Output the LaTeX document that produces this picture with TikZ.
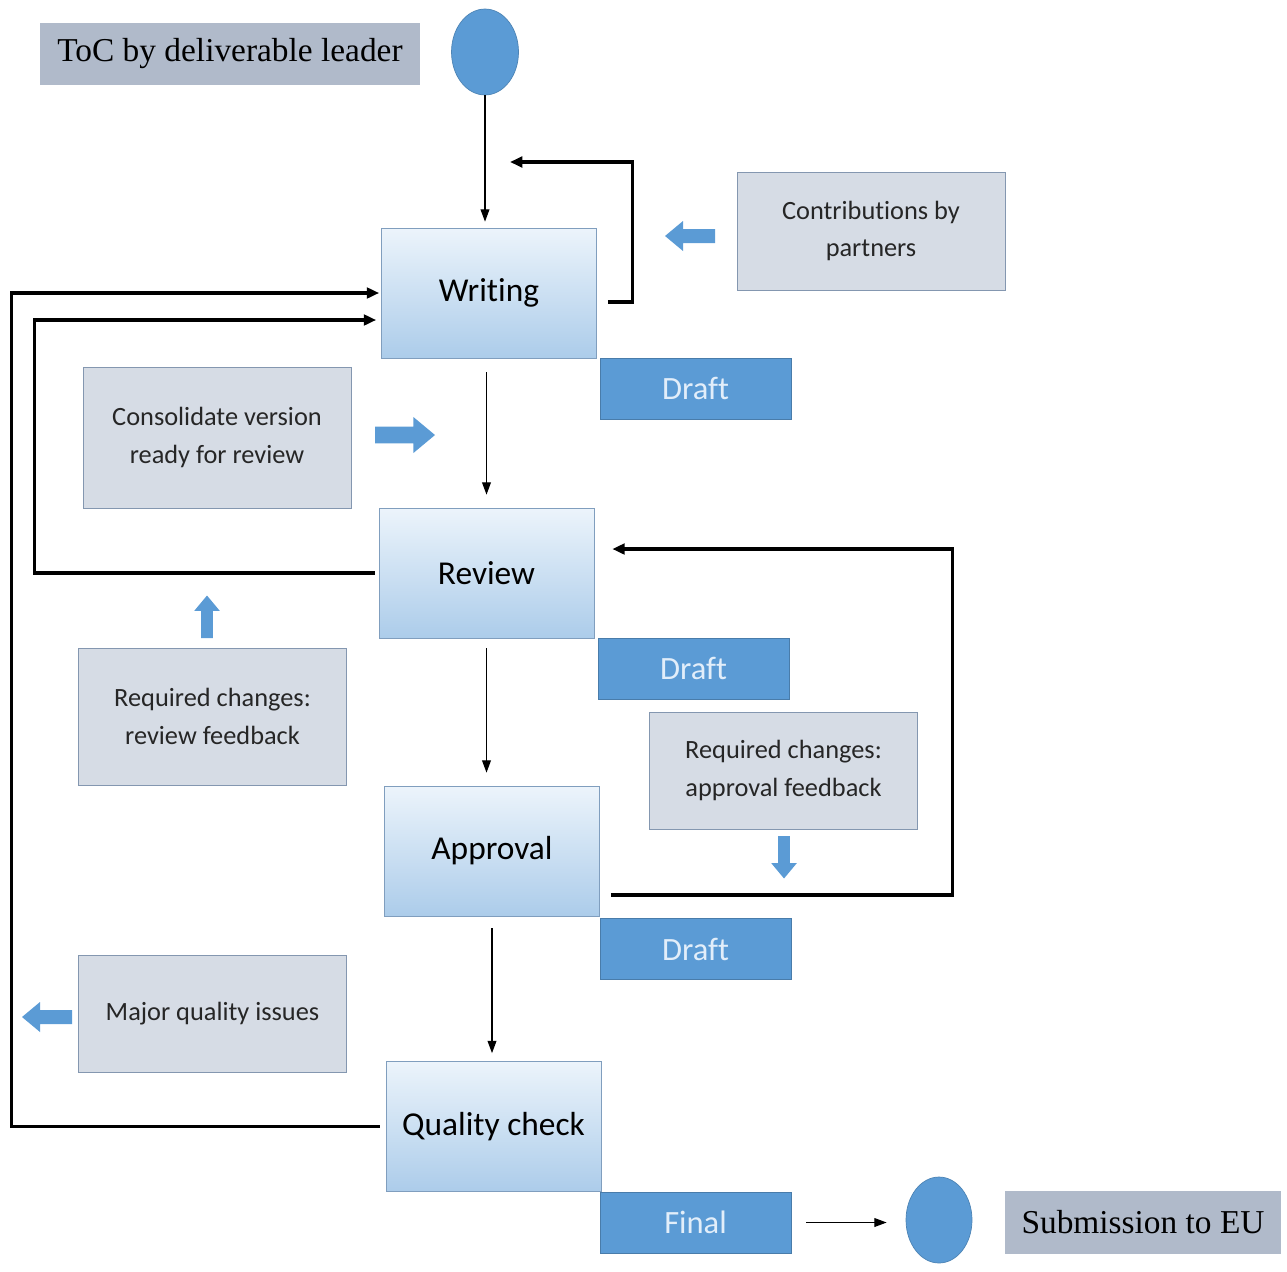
\documentclass[tikz,border=0pt]{standalone}
\usepackage{fontspec}
\setmainfont{Carlito}[Ligatures=NoCommon]
\newfontfamily\serifface{Liberation Serif}
\usetikzlibrary{arrows.meta,shapes.geometric}
\definecolor{draftblue}{RGB}{91,155,213}
\definecolor{drafttext}{RGB}{226,238,250}
\definecolor{noteback}{RGB}{214,220,229}
\definecolor{noteline}{RGB}{132,151,176}
\definecolor{titleback}{RGB}{176,186,202}
\definecolor{stagetop}{RGB}{236,244,251}
\definecolor{stagebot}{RGB}{172,204,234}
\definecolor{stageline}{RGB}{128,158,190}

\tikzset{pics/fatarrow/.style={code={
  \fill[draftblue] (0,-7) -- (32,-7) -- (32,-15) -- (50,0) -- (32,15) -- (32,7) -- (0,7) -- cycle;
}}}

\begin{document}
\begin{tikzpicture}[
    x=0.02cm, y=-0.02cm,
    stage/.style={draw=stageline, top color=stagetop, bottom color=stagebot, minimum width=4.3cm, minimum height=2.6cm, inner sep=0pt, font=\fontsize{19}{23}\selectfont},
    draft/.style={fill=draftblue, draw=draftblue!80!black, minimum width=3.82cm, minimum height=1.22cm, inner sep=0pt, text=drafttext, font=\fontsize{18.5}{22}\selectfont},
    note/.style={draw=noteline, fill=noteback, minimum width=5.36cm, align=center, inner sep=0pt, text=black!85, font=\fontsize{15}{21.5}\selectfont},
    title/.style={fill=titleback, inner sep=0pt, font=\serifface\fontsize{19}{23}\selectfont},
    dot/.style={ellipse, fill=draftblue, draw=draftblue!85!black, minimum width=1.34cm, minimum height=1.72cm},
    flow/.style={-{Triangle[length=7pt,width=5pt]}, line width=0.7pt},
    loopline/.style={-{Triangle[length=7pt,width=6pt]}, line width=1.8pt}
]
\useasboundingbox (0,0) rectangle (1287,1271);

\node[title, minimum width=7.6cm, minimum height=1.24cm] (toc) at (230,54) {ToC by deliverable leader};
\node[dot] (topdot) at (485,52) {};

\node[stage] (writing) at (489,293) {Writing};
\node[stage] (review) at (486.5,573) {Review};
\node[stage] (approval) at (492,851) {Approval};
\node[stage] (quality) at (493.5,1126.5) {Quality check};

\node[draft] (draft1) at (695.5,388.5) {Draft};
\node[draft] (draft2) at (693.5,668.5) {Draft};
\node[draft] (draft3) at (695.5,949) {Draft};
\node[draft] (final) at (695.5,1222.5) {Final};

\node[note, minimum height=2.36cm] (contrib) at (871,231) {Contributions by\\partners};
\node[note, minimum height=2.82cm] (consol) at (217,437.5) {Consolidate version\\ready for review};
\node[note, minimum height=2.74cm] (revfb) at (212.5,716.5) {Required changes:\\review feedback};
\node[note, minimum height=2.34cm] (appfb) at (783.5,770.5) {Required changes:\\approval feedback};
\node[note, minimum height=2.34cm] (major) at (212.5,1013.5) {Major quality issues};

\node[dot, minimum width=1.32cm] (enddot) at (939,1220) {};
\node[title, minimum width=5.52cm, minimum height=1.26cm] (submit) at (1143,1222.5) {Submission to EU};

\coordinate (wrloop) at (510,162);

% main flow
\draw[flow, shorten >=0.12cm] (topdot.south) -- (topdot.south |- writing.north);
\draw[flow, shorten <=0.28cm, shorten >=0.26cm] (review.north |- writing.south) -- (review.north);
\draw[flow, shorten <=0.2cm, shorten >=0.26cm] (review.south) -- (review.south |- approval.north);
\draw[flow, shorten <=0.24cm, shorten >=0.16cm] (approval.south) -- (approval.south |- quality.north);
\draw[flow, shorten <=0.3cm, shorten >=0.38cm] (final.east) -- (final.east -| enddot.west);

% feedback loops
\draw[loopline] ([shift={(11,9)}]writing.east) -- ++(25,0) |- (wrloop);
\draw[loopline] ([shift={(-4,0)}]review.west) -- ++(-340,0) |- ([shift={(-5,27)}]writing.west);
\draw[loopline] ([shift={(-6,0)}]quality.west) -- ++(-368,0) |- ([shift={(-2,0)}]writing.west);
\draw[loopline] ([shift={(11,44)}]approval.east) -- ++(342,0) |- ([shift={(18,-24)}]review.east);

% block arrows
\pic[rotate=180] at (715,236) {fatarrow};
\pic[scale=1.2] at (375,435) {fatarrow};
\pic[rotate=90, scale=0.85] at (207,638) {fatarrow};
\pic[rotate=-90, scale=0.85] at (784,836) {fatarrow};
\pic[rotate=180] at (72,1017) {fatarrow};

\end{tikzpicture}
\end{document}
